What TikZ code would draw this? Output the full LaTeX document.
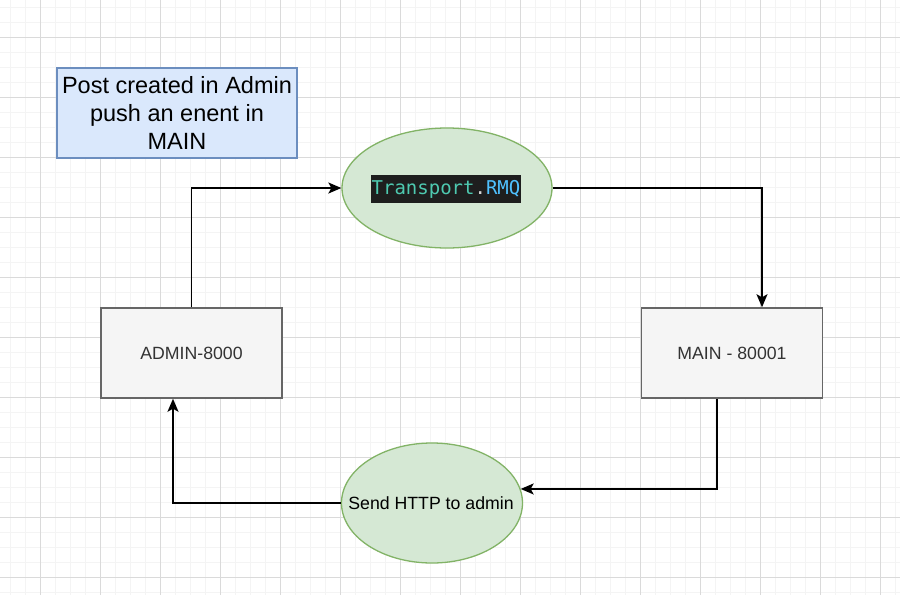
\documentclass[tikz,border=0pt]{standalone}
\usepackage{fontspec}
\setmainfont{Liberation Sans}
\newfontfamily\monof{DejaVu Sans Mono}
\usetikzlibrary{arrows.meta,shapes.geometric}
\definecolor{gridminor}{HTML}{F4F4F4}
\definecolor{gridmajor}{HTML}{DADADA}
\definecolor{boxfill}{HTML}{F5F5F5}
\definecolor{boxline}{HTML}{666666}
\definecolor{boxtext}{HTML}{333333}
\definecolor{greenfill}{HTML}{D5E8D4}
\definecolor{greenline}{HTML}{82B366}
\definecolor{bluefill}{HTML}{DAE8FC}
\definecolor{blueline}{HTML}{6C8EBF}
\definecolor{codebg}{HTML}{1E1E1E}
\definecolor{codeteal}{HTML}{4EC9B0}
\definecolor{codeblue}{HTML}{4FC1FF}
\definecolor{codedot}{HTML}{D4D4D4}
\tikzset{
  greybox/.style={draw=boxline, fill=boxfill, line width=1.5pt, minimum width=181pt, minimum height=90pt, inner sep=0pt, text=boxtext, font=\fontsize{17.7}{21}\selectfont},
  greenell/.style={ellipse, draw=greenline, fill=greenfill, line width=1.3pt, inner sep=0pt},
  notebox/.style={draw=blueline, fill=bluefill, line width=1.3pt, minimum width=240pt, minimum height=90pt, inner sep=0pt, align=center, font=\fontsize{23.5}{28}\selectfont},
  arr/.style={draw=black, line width=1.6pt, -{Stealth[length=13pt,width=11pt,inset=3pt]}},
  lbl/.style={inner sep=0pt, font=\fontsize{17.7}{21}\selectfont},
}
\begin{document}
\begin{tikzpicture}[x=1pt,y=-1pt]
\useasboundingbox (0,0) rectangle (900,595);
\fill[white] (0,0) rectangle (900,595);
% grid
\foreach \x in {10,25,...,895} \draw[gridminor, line width=1pt] (\x,0) -- (\x,595);
\foreach \y in {7,22,...,595} \draw[gridminor, line width=1pt] (0,\y) -- (900,\y);
\foreach \x in {40,100,...,880} \draw[gridmajor, line width=1pt] (\x,0) -- (\x,595);
\foreach \y in {37,97,...,577} \draw[gridmajor, line width=1pt] (0,\y) -- (900,\y);
% nodes
\node[notebox] (note) at (177,113) {Post created in Admin\\push an enent in\\MAIN};
\node[greybox] (admin) at (191.5,353) {ADMIN-8000};
\node[greybox] (main) at (732,353) {MAIN - 80001};
\node[greenell, minimum width=210pt, minimum height=120pt] (rmq) at (447,188) {};
\node[fill=codebg, minimum width=150pt, minimum height=28pt, inner sep=0pt, font=\monof\fontsize{19}{22}\selectfont] (rmqtext) at (446,189) {\textcolor{codeteal}{Transport}\textcolor{codedot}{.}\textcolor{codeblue}{RMQ}};
\node[greenell, minimum width=181pt, minimum height=120pt] (http) at (432,503) {};
\node[lbl] (httptext) at (431,503) {Send HTTP to admin};
% connectors
\draw[arr] (admin.north) |- (rmq.west);
\draw[arr] (rmq.east) -| ([xshift=30pt]main.north);
\draw[arr] ([xshift=-15pt]main.south) |- (http.9.8);
\draw[arr] (http.west) -| ([xshift=-18.5pt]admin.south);
\end{tikzpicture}
\end{document}
